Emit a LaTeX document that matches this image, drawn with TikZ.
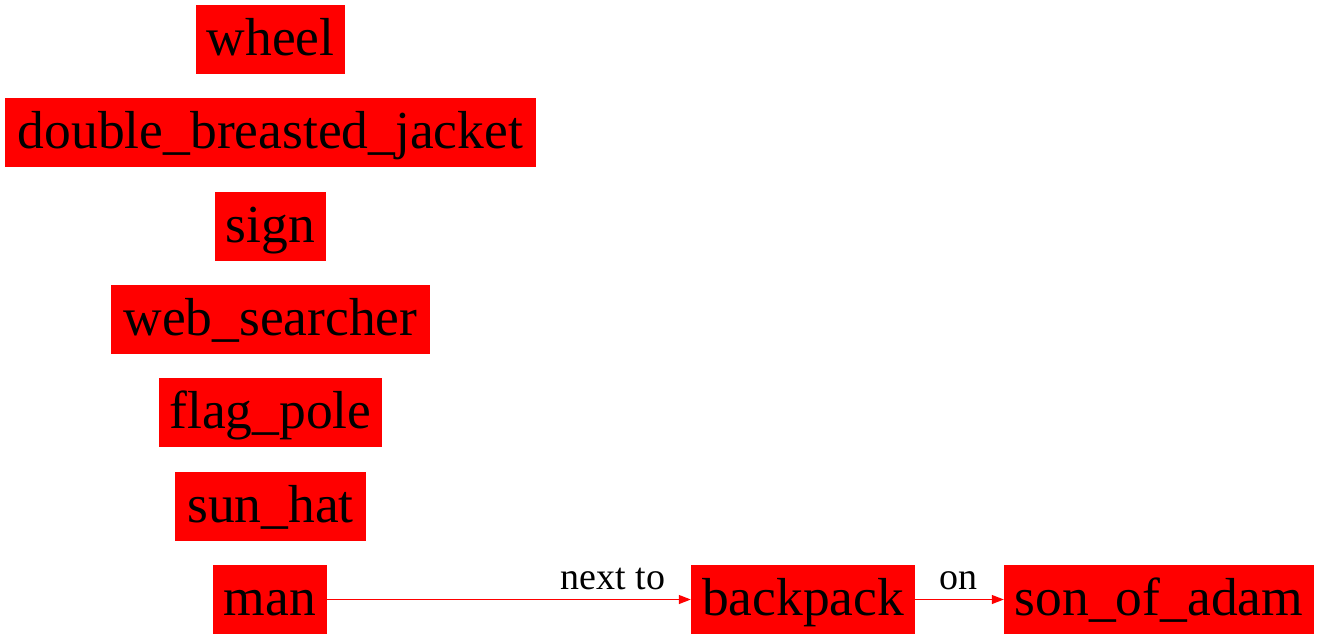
\documentclass[tikz,border=0pt]{standalone}
\usepackage{fontspec}
\setmainfont{Liberation Serif}
\usetikzlibrary{arrows.meta}
\begin{document}
\begin{tikzpicture}[x=1pt,y=-1pt,
  box/.style={fill=red, inner sep=0pt, minimum height=69pt, text height=40pt, text depth=8pt,
    font=\fontsize{53.5}{60}\selectfont, anchor=center},
  conn/.style={draw=red, line width=1.2pt, -{Triangle[length=12pt,width=9pt]}},
  lbl/.style={font=\fontsize{38}{44}\selectfont, anchor=base, yshift=10pt, inner sep=0pt}]
\useasboundingbox (0,0) rectangle (1320,640);
\node[box, minimum width=149pt] (wheel) at (270.5,39.5) {wheel};
\node[box, minimum width=531pt] (dbj) at (270.5,132.5) {double\_breasted\_jacket};
\node[box, minimum width=111pt] (sign) at (270.5,226) {sign};
\node[box, minimum width=319pt] (web) at (270.5,319.5) {web\_searcher};
\node[box, minimum width=223pt] (flag) at (270.5,412.5) {flag\_pole};
\node[box, minimum width=191pt] (hat) at (270.5,506.5) {sun\_hat};
\node[box, minimum width=114pt] (man) at (270,599.5) {man};
\node[box, minimum width=224pt] (backpack) at (803,599.5) {backpack};
\node[box, minimum width=310pt] (son) at (1159,599.5) {son\_of\_adam};
\draw[conn] (man) -- node[lbl, pos=0.786] (l1) {next to} (backpack);
\draw[conn] (backpack) -- node[lbl, pos=0.494] (l2) {on} (son);
\end{tikzpicture}
\end{document}
